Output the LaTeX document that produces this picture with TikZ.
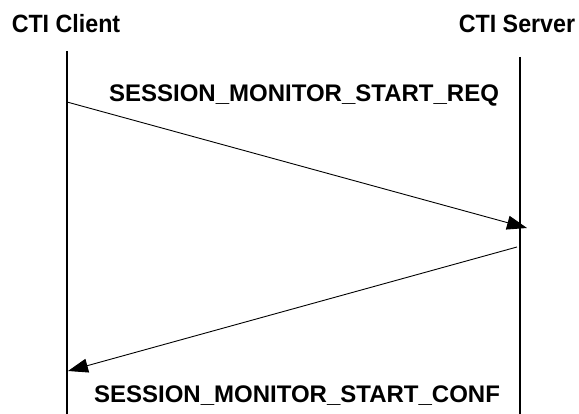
\documentclass[tikz,border=0pt]{standalone}
\usepackage{fontspec}
\setmainfont{Liberation Sans}
\usetikzlibrary{arrows.meta}

\begin{document}
\begin{tikzpicture}[x=1pt,y=-1pt,
  actor/.style={font=\bfseries\fontsize{25}{25}\selectfont,inner sep=0pt,xscale=0.93},
  msglabel/.style={font=\bfseries\fontsize{24}{24}\selectfont,inner sep=0pt},
  lifeline/.style={line width=1.1pt},
  msg/.style={line width=0.9pt,-{Triangle[length=20pt,width=14pt]}}]
  \useasboundingbox (0,0) rectangle (579,414);

  \node[actor] (client) at (66,24) {CTI Client};
  \node[actor] (server) at (517,24) {CTI Server};

  \coordinate (clienttop) at (67,51);
  \coordinate (clientbot) at (67,414);
  \coordinate (servertop) at (520,57);
  \coordinate (serverbot) at (520,414);
  \draw[lifeline] (clienttop) -- (clientbot); % client
  \draw[lifeline] (servertop) -- (serverbot); % server

  \coordinate (reqfrom) at (67,102);
  \coordinate (reqto) at (527,228);
  \draw[msg] (reqfrom) -- (reqto);
  \node[msglabel] (req) at (304,95) {SESSION\_MONITOR\_START\_REQ};

  \coordinate (conffrom) at (517,247);
  \coordinate (confto) at (68,371);
  \draw[msg] (conffrom) -- (confto);
  \node[msglabel] (conf) at (297,396) {SESSION\_MONITOR\_START\_CONF};
\end{tikzpicture}
\end{document}
